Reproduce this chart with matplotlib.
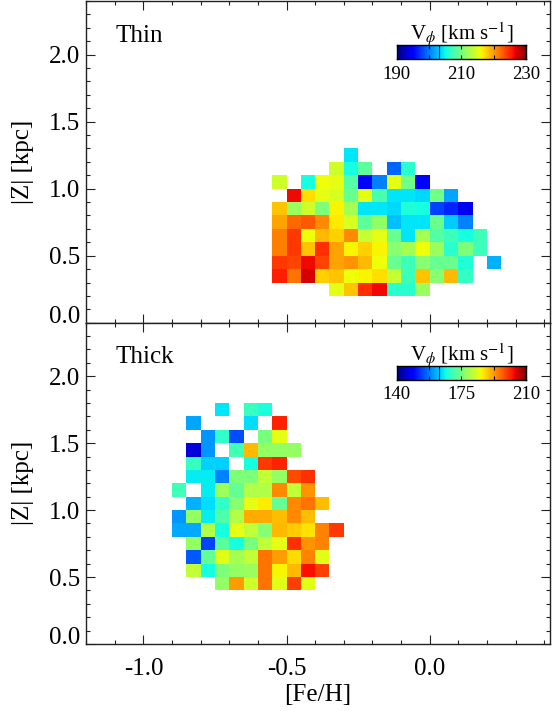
import numpy as np
import matplotlib
matplotlib.use('Agg')
import matplotlib.pyplot as plt
from matplotlib.ticker import MultipleLocator
from matplotlib.transforms import ScaledTranslation

plt.rcParams['font.family'] = ['Liberation Serif', 'DejaVu Serif']
plt.rcParams['mathtext.fontset'] = 'stix'
plt.rcParams['axes.unicode_minus'] = False

n = np.nan

# thin disk: [Fe/H] bins of 0.05 from -0.55, |Z| bins of 0.1, rows listed from |Z|=1.3 down to 0.2
thin_fe0 = -0.55
thin_ztop = 1.3
thin_vphi = [
    [n, n, n, n, n, 204, n, n, n, n, n, n, n, n, n, n],
    [n, n, n, n, 214, 205, 208.5, n, 199, 206, n, n, n, n, n, n],
    [214, n, 205, 215.5, 215, 208, 195, 200, 215, 209.5, 195, n, n, n, n, n],
    [n, 226, 217, 215, 214.5, 209, 215, 207.5, 204, 204, 203.5, 209.5, 201.5, n, n, n],
    [218, 211.5, 214, 210, 216, 212, 204, 204, 203.5, 205.5, 205, 197.5, 196.5, 194, n, n],
    [219.5, 222, 222.5, 220.5, 216.5, 214.5, 208.5, 211, 202.5, 204, 204, 209, 203, 200, n, n],
    [221, 224, 215.5, 218.5, 217.5, 220.5, 213.5, 215, 209, 204, 212, 208, 207, 205, 207, n],
    [221, 224, 218, 224.5, 219.5, 216, 217.5, 216, 210.5, 212, 215.5, 211.5, 206, 210, 207, n],
    [224, 223.5, 226, 223.5, 219.5, 220, 218.5, 215.5, 209, 207, 210.5, 209, 209, 205.5, n, 202],
    [225, 221.5, 227, 217.5, 218, 215.5, 216, 217, 213.5, 207, 218, 210.5, 218.5, 206.5, n, n],
    [n, n, n, n, 215, 218, 224.5, 226, 206, 206, 211.5, n, n, n, n, n],
]

# thick disk: [Fe/H] bins from -0.90, rows from |Z|=1.8 down to 0.4
thick_fe0 = -0.90
thick_ztop = 1.8
thick_vphi = [
    [n, n, n, 164.5, n, 169, 167, n, n, n, n, n],
    [n, 160, n, n, n, 164, n, 201, n, n, n, n],
    [n, n, 159, 168.5, 154, n, 174.5, 184, n, n, n, n],
    [n, 145.5, 159, n, 170, 190, 177, 177, 177, n, n, n],
    [n, 169, 163, 163, n, 166.5, 199.5, 201, n, n, n, n],
    [n, 165, 165, 157.5, 175, 175, 181, 177, 198, 200, n, n],
    [170, n, 165, 178, 173, 179.5, 179.5, 193.5, 181, 192.5, n, n],
    [n, 161, 164, 168.5, 176, 184, 186, 173, 193.5, 195, 189.5, n],
    [159, 177, 165, 171, 179.5, 191, 191, 189.5, 193.5, 189.5, n, n],
    [160.5, 160.5, 179.5, 166.5, 184, 181, 176, 190, 188.5, 187, 194, 199.5],
    [n, 177, 153.5, 172, 166.5, 174.5, 180.5, 184, 200, 192.5, 194, n],
    [n, 155, 173, 183.5, 178.5, 181, 195, 192, 187.5, 194, 183.5, n],
    [n, 181, 166.5, 175, 177, 177.5, 195, 185.5, 190, 202.5, 199, n],
    [n, n, n, 177, 192, 182, 195, 183.5, 199, 183.5, n, n],
]

thin_range = (190, 230)
thick_range = (140, 210)
thin_cb_ticks = [190, 200, 210, 220, 230]
thin_cb_labels = ['190', '', '210', '', '230']
thick_cb_ticks = [140, 157.5, 175, 192.5, 210]
thick_cb_labels = ['140', '', '175', '', '210']

dfe = 0.05
dz = 0.1
cmap = 'jet'
edge = '#222222'

fig = plt.figure(figsize=(5.56, 7.11), dpi=100)
ax1 = fig.add_axes([0.155, 0.5461, 0.834, 0.4525])
ax2 = fig.add_axes([0.155, 0.0943, 0.834, 0.4518])


def panel(ax, vals, fe0, ztop, vr, name):
    c = np.ma.masked_invalid(np.array(vals, dtype=float))
    nr, nc = c.shape
    fe = fe0 + dfe * np.arange(nc + 1)
    z = ztop - dz * np.arange(nr + 1)
    ax.pcolormesh(fe, z, c, cmap=cmap, vmin=vr[0], vmax=vr[1])
    ax.set_xlim(-1.2, 0.42)
    ax.set_ylim(0, 2.4)
    ax.set_xticks([-1.0, -0.5, 0.0])
    ax.set_yticks([0.0, 0.5, 1.0, 1.5, 2.0])
    ax.xaxis.set_minor_locator(MultipleLocator(0.1))
    ax.yaxis.set_minor_locator(MultipleLocator(0.1))
    ax.tick_params(which='both', direction='in', top=True, right=True,
                   color=edge, width=0.8, labelsize=18)
    ax.tick_params(which='major', length=6.5)
    ax.tick_params(which='minor', length=3.2)
    ax.tick_params(axis='x', pad=10)
    ax.tick_params(axis='y', pad=4.5)
    ax.yaxis.set_major_formatter(matplotlib.ticker.FormatStrFormatter('%.1f'))
    ax.xaxis.set_major_formatter(matplotlib.ticker.FormatStrFormatter('%.1f'))
    for s in ax.spines.values():
        s.set_color(edge)
        s.set_linewidth(1.0)
    ax.set_ylabel('|Z| [kpc]', fontsize=18)
    ax.yaxis.set_label_coords(-0.113, 0.5)
    ax.text(0.063, 0.874, name, transform=ax.transAxes, fontsize=18, va='baseline')
    # lowest label sits a little above the axis, as in the original
    lab = ax.get_yticklabels()[0]
    lab.set_transform(lab.get_transform() + ScaledTranslation(0, 8 / 100, fig.dpi_scale_trans))


def cbar(rect, vr, ticks, labels):
    cax = fig.add_axes(rect)
    grad = np.linspace(vr[0], vr[1], 256)[None, :]
    cax.imshow(grad, aspect='auto', cmap=cmap, extent=[vr[0], vr[1], 0, 1],
               vmin=vr[0], vmax=vr[1])
    cax.set_xlim(vr)
    cax.set_ylim(0, 1)
    cax.set_yticks([])
    cax.set_xticks(ticks, labels)
    cax.tick_params(axis='x', direction='in', top=True, bottom=True, length=3,
                    width=0.8, pad=5, labelsize=13.5)
    cax.axvline(vr[0] + 0.327 * (vr[1] - vr[0]), color='k', lw=0.8)
    for s in cax.spines.values():
        s.set_linewidth(1.0)
    cax.set_title(r'V$_\phi$ [km s$^{-1}$]', fontsize=15, pad=3)


panel(ax1, thin_vphi, thin_fe0, thin_ztop, thin_range, 'Thin')
panel(ax2, thick_vphi, thick_fe0, thick_ztop, thick_range, 'Thick')
ax1.tick_params(axis='x', labelbottom=False)
ax2.set_xlabel('[Fe/H]', fontsize=18, labelpad=3)

cbar([0.7135, 0.9174, 0.2326, 0.0197], thin_range, thin_cb_ticks, thin_cb_labels)
cbar([0.7135, 0.4662, 0.2326, 0.0197], thick_range, thick_cb_ticks, thick_cb_labels)

fig.savefig('out.png', dpi=100)
